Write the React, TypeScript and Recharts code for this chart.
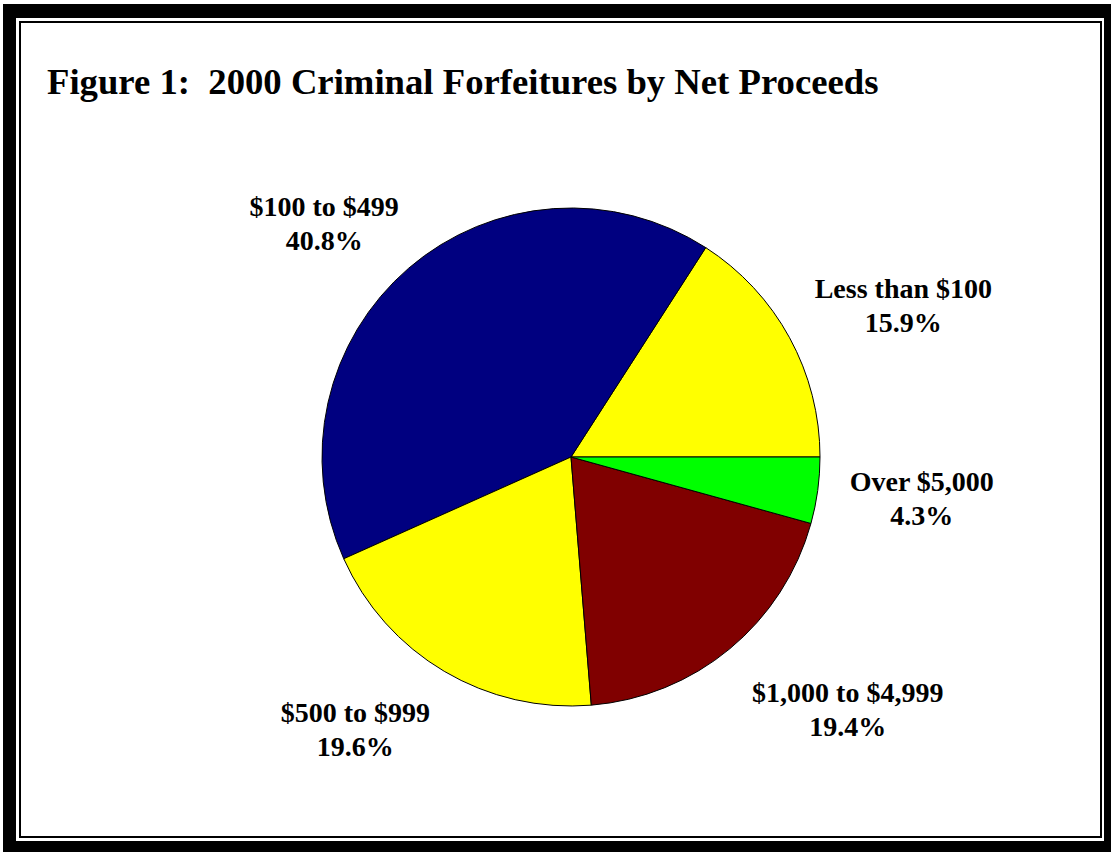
import React from 'react';
import { PieChart, Pie, Cell } from 'recharts';

// slices go counter-clockwise from 3 o'clock, as in the original
const categories = [
  'Less than $100',
  '$100 to $499',
  '$500 to $999',
  '$1,000 to $4,999',
  'Over $5,000',
];
const shares = [15.9, 40.8, 19.6, 19.4, 4.3];
const sliceColors = ['#ffff00', '#000080', '#ffff00', '#800000', '#00ff00'];

const title = 'Figure 1:  2000 Criminal Forfeitures by Net Proceeds';

const data = categories.map((name, i) => ({ name, value: shares[i] }));

// small hand nudges so labels land where the original put them
const labelNudge: [number, number][] = [
  [-3, -4],
  [11, 0],
  [2, 9],
  [2, 16],
  [0, 1],
];

const FONT = '"Liberation Serif", "Times New Roman", serif';
const RADIAN = Math.PI / 180;
const LABEL_SIZE = 28;
const LINE_GAP = 34;
const CAP = 18;

let canvas: HTMLCanvasElement | null = null;
function measure(s: string) {
  if (!canvas) canvas = document.createElement('canvas');
  const ctx = canvas.getContext('2d');
  if (!ctx) return s.length * LABEL_SIZE * 0.5;
  ctx.font = `bold ${LABEL_SIZE}px ${FONT}`;
  return ctx.measureText(s).width;
}

function renderLabel(props: any) {
  const { cx, cy, midAngle, outerRadius, index, value } = props;
  const r = outerRadius + 32;
  const cos = Math.cos(-midAngle * RADIAN);
  const sin = Math.sin(-midAngle * RADIAN);
  const [nx, ny] = labelNudge[index] || [0, 0];
  const x = cx + r * cos + nx;
  const y = cy + r * sin + ny;
  const blockH = LINE_GAP + CAP;
  // upper labels sit above the point, lower ones hang below it
  const top = y - blockH / 2 + (blockH / 2) * sin;
  const base1 = top + CAP;
  const line1 = categories[index];
  const w = measure(line1);
  // left side labels end at the point, right side ones start there
  const centre = cos >= 0 ? x + w / 2 : x - w / 2;
  return (
    <text
      key={`lbl-${index}`}
      fontFamily={FONT}
      fontWeight="bold"
      fontSize={LABEL_SIZE}
      fill="#000"
      textAnchor="middle"
    >
      <tspan x={centre} y={base1}>
        {line1}
      </tspan>
      <tspan x={centre} y={base1 + LINE_GAP}>
        {`${Number(value).toFixed(1)}%`}
      </tspan>
    </text>
  );
}

export default function App() {
  return (
    <div
      style={{
        position: 'absolute',
        left: 0,
        top: 0,
        width: 1111,
        height: 852,
        background: '#fff',
        overflow: 'hidden',
      }}
    >
      {/* outer heavy frame */}
      <div
        style={{
          position: 'absolute',
          left: 3,
          top: 4,
          width: 1108,
          height: 848,
          background: '#000',
        }}
      />
      <div
        style={{
          position: 'absolute',
          left: 16,
          top: 18,
          width: 1088,
          height: 823,
          background: '#fff',
        }}
      />
      {/* inner thin frame */}
      <div
        style={{
          position: 'absolute',
          left: 19,
          top: 21,
          width: 1079,
          height: 813,
          border: '2px solid #000',
        }}
      />
      <div
        style={{
          position: 'absolute',
          left: 47,
          top: 64,
          fontFamily: FONT,
          fontWeight: 'bold',
          fontSize: 36.7,
          lineHeight: '36px',
          whiteSpace: 'pre',
          color: '#000',
        }}
      >
        {title}
      </div>
      <PieChart
        width={1111}
        height={852}
        margin={{ top: 0, right: 0, bottom: 0, left: 0 }}
        style={{ position: 'absolute', left: 0, top: 0 }}
      >
        <Pie
          data={data}
          dataKey="value"
          nameKey="name"
          cx={571}
          cy={457}
          outerRadius={249}
          startAngle={0}
          endAngle={360}
          stroke="#000"
          strokeWidth={1}
          label={renderLabel}
          labelLine={false}
          isAnimationActive={false}
        >
          {data.map((d, i) => (
            <Cell key={d.name} fill={sliceColors[i]} />
          ))}
        </Pie>
      </PieChart>
    </div>
  );
}
